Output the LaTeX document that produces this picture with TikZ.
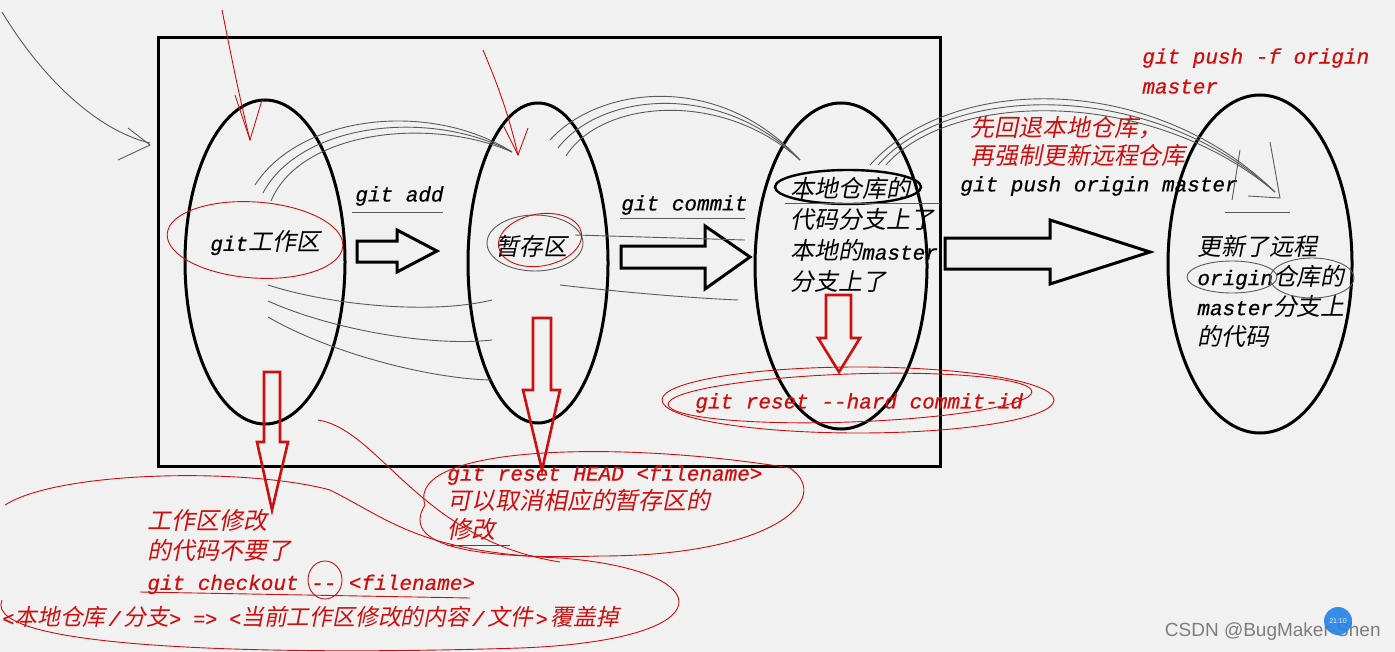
\documentclass[tikz,border=0pt]{standalone}
\usepackage{fontspec}
\usepackage{tikz}
\usetikzlibrary{shapes.geometric}
\setmainfont{Liberation Mono}[ItalicFeatures={FakeBold=0.6}]
\setsansfont{Liberation Sans}
\newfontfamily\cnfont{Noto Sans CJK SC}[FakeSlant=0.2,Scale=1.14]
\newcommand{\zh}[1]{{\cnfont #1}}
\definecolor{paperGray}{RGB}{241, 241, 241}
\definecolor{inkRed}{RGB}{205, 15, 15}
\definecolor{pencilGray}{RGB}{90, 90, 90}
\definecolor{markGray}{RGB}{125, 125, 125}
\definecolor{clockBlue}{RGB}{35, 130, 230}

\begin{document}
\begin{tikzpicture}[x=0.5pt, y=-0.5pt,
    blob/.style={ellipse, draw, line width=1.5pt, inner sep=0pt},
    txt/.style={anchor=west, inner sep=0pt, align=left,
      font=\fontsize{10.5}{15}\selectfont\itshape},
    rtxt/.style={txt, text=inkRed},
    blockarr/.style={draw, line width=1.5pt, line join=miter},
    redarr/.style={draw=inkRed, line width=1.3pt, line join=miter},
    scrib/.style={pencilGray, line width=0.45pt},
    redscrib/.style={inkRed, line width=0.45pt}]
      \fill[paperGray] (0,0) rectangle (1395,652);
      \useasboundingbox (0,0) rectangle (1395,652);

      % the box and the four areas
      \draw[line width=1.5pt] (158,38) rectangle (940,466);
      \node[blob, minimum width=80pt, minimum height=162pt] (work) at (265,262) {};
      \node[blob, minimum width=70pt, minimum height=160pt] (stage) at (538,263) {};
      \node[blob, minimum width=86pt, minimum height=163pt] (local) at (841,266) {};
      \node[blob, minimum width=92pt, minimum height=169pt] (remote) at (1260,264) {};

      % hollow arrows between the areas
      \draw[blockarr] (357,241) -- (397,241) -- (397,230) -- (437,251) -- (397,272) -- (397,262) -- (357,262) -- cycle;
      \draw[blockarr] (621,246) -- (705,246) -- (705,226) -- (750,257) -- (705,289) -- (705,268) -- (621,268) -- cycle;
      \draw[blockarr] (945,238) -- (1050,238) -- (1050,220) -- (1150,252) -- (1050,284) -- (1050,269) -- (945,269) -- cycle;

      % red arrows down to the commands
      \draw[redarr] (264,372) -- (280,372) -- (280,442) -- (288,442) -- (272,510) -- (257,442) -- (264,442) -- cycle;
      \draw[redarr] (533,318) -- (551,318) -- (551,390) -- (560,390) -- (542,470) -- (523,390) -- (533,390) -- cycle;
      \draw[redarr] (826,295) -- (851,295) -- (851,338) -- (860,338) -- (839,372) -- (818,338) -- (826,338) -- cycle;

      % texts
      \node[txt] (addlbl) at (355,196) {git add};
      \node[txt] (commitlbl) at (621,205) {git commit};
      \node[txt] (worklbl) at (210,243) {git\zh{工作区}};
      \node[txt] (stagelbl) at (495,246) {\zh{暂存区}};
      \node[txt, font=\fontsize{10.5}{15.5}\selectfont\itshape] (locallbl) at (790,235)
        {\zh{本地仓库的}\\\zh{代码分支上了}\\\zh{本地的}master\\\zh{分支上了}};
      \node[txt] (pushlbl) at (960,186) {git push origin master};
      \node[rtxt, font=\fontsize{10.5}{14}\selectfont\itshape] (forcelbl) at (970,141)
        {\zh{先回退本地仓库，}\\\zh{再强制更新远程仓库}};
      \node[rtxt] (forcecmd) at (1142,71) {git push -f origin\\master};
      \node[txt] (remotelbl) at (1197,291)
        {\zh{更新了远程}\\origin\zh{仓库的}\\master\zh{分支上}\\\zh{的代码}};
      \node[rtxt] (hardlbl) at (695,403) {git reset -{}-hard commit-id};
      \node[rtxt, font=\fontsize{10.5}{14.5}\selectfont\itshape] (headlbl) at (447,503)
        {git reset HEAD <filename>\\\zh{可以取消相应的暂存区的}\\\zh{修改}};
      \node[rtxt] (checkoutlbl) at (147,552)
        {\zh{工作区修改}\\\zh{的代码不要了}\\git checkout -{}- <filename>};
      \node[rtxt, font=\fontsize{10}{12}\selectfont\itshape] (coverlbl) at (2,617)
        {<\zh{本地仓库}\kern1.5pt/\kern1.5pt\zh{分支}> => <\zh{当前工作区修改的内容}\kern1.5pt/\kern1.5pt\zh{文件}\kern1.5pt>\kern1.5pt\zh{覆盖掉}};

      % pencil strokes over the picture
      \draw[scrib] (352,212) -- (443,212);
      \draw[scrib] (620,218) -- (745,218);
      \draw[scrib] (2,12) .. controls (40,75) and (95,130) .. (150,143);
      \draw[scrib] (118,160) -- (150,145) -- (128,128);
      \foreach \d in {0,8,16} {
        \draw[scrib] (255+\d,185+\d) .. controls (300,115+\d) and (430,100+\d) .. (512,152);
        \draw[scrib] (550+\d,140+\d) .. controls (600,85+\d) and (720,72+\d) .. (800,160);
        \draw[scrib] (870+\d,165) .. controls (950,75+\d) and (1150,70+\d) .. (1275,192);
        \draw[scrib] (268,285+2*\d) .. controls (330,305+3*\d) and (430,315+4*\d) .. (492,300+5*\d);
      }
      \draw[scrib] (560,285) .. controls (620,292) and (690,298) .. (738,300);
      \draw[scrib] (575,235) -- (745,240);
      \draw[scrib] (1240,150) -- (1232,200);
      \draw[scrib] (1270,142) -- (1280,198) -- (1248,196);
      \draw[scrib] (1225,212) -- (1290,212);
      \draw[scrib] (1232,277) ellipse [x radius=45, y radius=16];
      \draw[scrib] (1312,278) ellipse [x radius=42, y radius=20];
      \draw[scrib] (535,243) ellipse [x radius=48, y radius=28];
      \draw[line width=1.2pt] (848,187) ellipse [x radius=73, y radius=17];
      \draw[scrib] (785,203) -- (940,203);

      % red pen strokes
      \draw[redscrib] (222,10) .. controls (232,60) and (240,100) .. (250,140);
      \draw[redscrib] (235,95) -- (250,140) -- (262,100);
      \draw[redscrib] (483,50) .. controls (500,90) and (510,120) .. (518,155);
      \draw[redscrib] (503,125) -- (518,155) -- (528,128);
      \draw[redscrib, rotate around={-4:(255,240)}] (255,240) ellipse [x radius=88, y radius=38];
      \draw[redscrib, rotate around={10:(540,240)}] (540,240) ellipse [x radius=42, y radius=26];
      \draw[redscrib] (858,400) ellipse [x radius=196, y radius=33];
      \draw[redscrib, rotate around={2:(850,398)}] (850,398) ellipse [x radius=182, y radius=24];
      \draw[redscrib] (425,505) .. controls (405,445) and (620,440) .. (790,468)
        .. controls (835,500) and (770,556) .. (600,556) .. controls (470,560) and (400,545) .. (425,505);
      \draw[redscrib] (5,505) .. controls (60,470) and (250,468) .. (330,490)
        .. controls (390,520) and (420,552) .. (560,558) .. controls (720,570) and (730,640) .. (520,648)
        .. controls (300,655) and (-20,652) .. (2,600);
      \draw[redscrib] (318,420) .. controls (380,430) and (420,540) .. (560,562);
      \draw[redscrib] (325,580) ellipse [x radius=17, y radius=19];
      \draw[redscrib] (140,592) -- (470,598);
      \draw[redscrib] (447,545) -- (510,545);

      % watermark
      \node[anchor=east, inner sep=0pt, text=markGray, font=\sffamily\fontsize{9.5}{11}\selectfont] (mark) at (1381,632) {CSDN @BugMaker-Shen};
      \node[circle, fill=clockBlue, fill opacity=0.9, minimum size=14pt, inner sep=0pt,
        text=white, font=\sffamily\fontsize{3.5}{4}\selectfont] (clock) at (1338,621) {21:10};
\end{tikzpicture}
\end{document}
